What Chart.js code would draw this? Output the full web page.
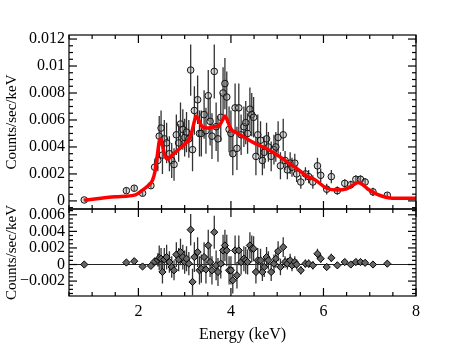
<!DOCTYPE html>
<html>
<head>
<meta charset="utf-8">
<script src="https://cdn.jsdelivr.net/npm/chart.js@4/dist/chart.umd.min.js"></script>
<style>
html, body { margin: 0; padding: 0; background: #fff; }
#wrap { width: 463px; height: 348px; }
</style>
</head>
<body>
<div id="wrap"><canvas id="spec" width="463" height="348"></canvas></div>
<script>
// spectrum bins (keV), data, residuals and 1-sigma errors
var energy = [0.83, 1.74, 1.91, 2.09, 2.27, 2.35, 2.42, 2.45, 2.49, 2.52, 2.56, 2.61, 2.67, 2.72, 2.77, 2.82, 2.87, 2.91, 2.96, 3.00,
    3.04, 3.09, 3.13, 3.17, 3.21, 3.28, 3.32, 3.36, 3.42, 3.46, 3.51, 3.55, 3.59, 3.64, 3.68, 3.72, 3.78, 3.83, 3.87, 3.91,
    3.96, 4.00, 4.04, 4.09, 4.13, 4.17, 4.22, 4.28, 4.32, 4.36, 4.41, 4.45, 4.49, 4.54, 4.58, 4.64, 4.68, 4.72, 4.77, 4.81,
    4.87, 4.93, 4.97, 5.02, 5.07, 5.13, 5.17, 5.22, 5.28, 5.32, 5.38, 5.42, 5.51, 5.61, 5.68, 5.77, 5.87, 5.94, 6.07, 6.17,
    6.30, 6.46, 6.59, 6.70, 6.80, 6.90, 7.07, 7.38];
var counts = [0.00007, 0.00076, 0.00094, 0.00057, 0.00113, 0.0025, 0.0030, 0.0048, 0.0054, 0.0034, 0.0046, 0.0043, 0.0035, 0.0030, 0.0027, 0.0049, 0.0043, 0.0057, 0.0053, 0.0047,
    0.0051, 0.0046, 0.0097, 0.0038, 0.0067, 0.0075, 0.0050, 0.0050, 0.0064, 0.0052, 0.0078, 0.0059, 0.0048, 0.0096, 0.0055, 0.0046, 0.0062, 0.0080, 0.0087, 0.0077,
    0.0053, 0.0050, 0.0035, 0.0069, 0.0039, 0.0069, 0.0049, 0.0055, 0.0058, 0.0050, 0.0068, 0.0064, 0.0062, 0.0033, 0.0049, 0.0045, 0.0030, 0.0036, 0.0046, 0.0040,
    0.0033, 0.0038, 0.0040, 0.0047, 0.0026, 0.0049, 0.0030, 0.0023, 0.0028, 0.0025, 0.0028, 0.0020, 0.0014, 0.0020, 0.0018, 0.0014, 0.0026, 0.0019, 0.00087, 0.0018,
    0.00076, 0.0013, 0.0012, 0.0016, 0.0016, 0.0014, 0.00067, 0.00042];
var resid = [0, 0.00024, 0.0004, -0.00024, -0.00016, 0.00036, 0.00056, 0.0008, 0.0007, -0.0009, 0.0006, 0.0009, 0.0003, -0.0003, -0.0007, 0.0012, 0.0006, 0.0015, 0.0009, 0.0003,
    0.0007, 0.0001, 0.0042, -0.0021, 0.0009, 0.0015, -0.0007, -0.0005, 0.0009, -0.0006, 0.0023, 0.0003, -0.0007, 0.0039, -0.0001, -0.0009, 0.0001, 0.0017, 0.0023, 0.0017,
    -0.0007, -0.0007, -0.0019, 0.0017, -0.0013, 0.0017, 0.0003, 0.0007, 0.0005, 0.0003, 0.0023, 0.0019, 0.0019, -0.0009, 0.0005, 0.0005, -0.0009, -0.0003, 0.0009, 0.0005,
    -0.0009, 0.0001, 0.0007, 0.0016, -0.0003, 0.0021, 0.0003, 0.0001, 0.0005, -0.0001, 0.0003, 0, -0.0007, 0.0001, 0.0001, -0.0001, 0.0013, 0.0007, -0.0003, 0.0008,
    -0.0001, 0.0003, 0, 0.0003, 0.0003, 0.0002, 0, 0.0001];
var err = [0.0001, 0.0002, 0.0002, 0.0002, 0.0002, 0.0005, 0.0008, 0.0015, 0.0013, 0.0014, 0.0014, 0.0015, 0.0013, 0.0013, 0.0012, 0.0015, 0.0014, 0.0016, 0.0015, 0.0014,
    0.0015, 0.0014, 0.0019, 0.0016, 0.0018, 0.0018, 0.0017, 0.0017, 0.0018, 0.0017, 0.0019, 0.0018, 0.0017, 0.0020, 0.0018, 0.0017, 0.0018, 0.0019, 0.0019, 0.0019,
    0.0017, 0.0017, 0.0016, 0.0018, 0.0016, 0.0018, 0.0015, 0.0015, 0.0016, 0.0015, 0.0016, 0.0016, 0.0015, 0.0014, 0.0015, 0.0014, 0.0011, 0.0012, 0.0012, 0.0011,
    0.0011, 0.0011, 0.0011, 0.0012, 0.0010, 0.0012, 0.0007, 0.0007, 0.0008, 0.0007, 0.0007, 0.0006, 0.0005, 0.0005, 0.0005, 0.0005, 0.0006, 0.0005, 0.0004, 0.0005,
    0.0003, 0.0003, 0.0003, 0.0003, 0.0003, 0.0003, 0.0003, 0.0002];

// folded model
var modelE = [0.83, 1.5, 1.95, 2.05, 2.2, 2.3, 2.36, 2.41, 2.45, 2.48, 2.52, 2.57, 2.63, 2.7, 2.8, 2.9, 3.0, 3.1, 3.16, 3.21,
    3.25, 3.3, 3.38, 3.5, 3.65, 3.75, 3.82, 3.87, 3.92, 4.0, 4.1, 4.25, 4.5, 4.75, 5.0, 5.25, 5.5, 5.65, 5.8, 6.07,
    6.3, 6.5, 6.65, 6.75, 6.85, 6.95, 7.15, 7.37, 7.5, 8.0];
var modelY = [0.00005, 0.0003, 0.00047, 0.0007, 0.0011, 0.0015, 0.0022, 0.0034, 0.0044, 0.0046, 0.0041, 0.0034, 0.0031, 0.0033, 0.0036, 0.0039, 0.0042, 0.0046, 0.0052, 0.0059,
    0.0063, 0.0060, 0.0055, 0.0054, 0.0055, 0.0056, 0.0060, 0.0063, 0.0060, 0.0053, 0.0051, 0.0048, 0.0043, 0.0039, 0.0034, 0.0028, 0.0022, 0.0018, 0.0016, 0.00094,
    0.0008, 0.0009, 0.0012, 0.00136, 0.0012, 0.0009, 0.0005, 0.00025, 0.0002, 0.0002];

var xTicks = [2, 4, 6, 8];
var yTopTicks = [0, 0.002, 0.004, 0.006, 0.008, 0.01, 0.012];
var yTopLabels = ['0', '0.002', '0.004', '0.006', '0.008', '0.01', '0.012'];
var yBotTicks = [-0.002, 0, 0.002, 0.004, 0.006];
var yBotLabels = ['\u22120.002', '0', '0.002', '0.004', '0.006'];

var serif = "'Liberation Serif', 'DejaVu Serif', serif";

function errorSegments(vals) {
    var out = [];
    energy.forEach(function (e, i) {
        out.push({x: e, y: vals[i] - err[i]});
        out.push({x: e, y: vals[i] + err[i]});
        out.push({x: e, y: null});
    });
    return out;
}

// inward tick marks on all four sides of both panels, like the PGPLOT frame
var frameTicks = {
    id: 'frameTicks',
    afterDatasetsDraw: function (chart) {
        var ctx = chart.ctx;
        var sx = chart.scales.x;
        ctx.save();
        ctx.strokeStyle = '#000';
        ctx.lineWidth = 1.2;
        function seg(x1, y1, x2, y2) {
            ctx.beginPath();
            ctx.moveTo(x1, y1);
            ctx.lineTo(x2, y2);
            ctx.stroke();
        }
        [chart.scales.y, chart.scales.y2].forEach(function (sy) {
            var l = sx.left, r = sx.right, t = sy.top, b = sy.bottom;
            ctx.strokeRect(l, t, r - l, b - t);
            for (var k = 1; k <= 16; k++) {
                var v = k * 0.5;
                var px = sx.getPixelForValue(v);
                var len = xTicks.indexOf(v) >= 0 ? 8 : 4;
                seg(px, t, px, t + len);
                seg(px, b, px, b - len);
            }
            var k0 = Math.ceil(sy.min / 0.0005), k1 = Math.floor(sy.max / 0.0005);
            for (var j = k0; j <= k1; j++) {
                var py = sy.getPixelForValue(j * 0.0005);
                var ln = j % 4 === 0 ? 8 : 4;
                seg(l, py, l + ln, py);
                seg(r, py, r - ln, py);
            }
        });
        ctx.restore();
    }
};

var area = document.getElementById("spec").getContext("2d");
var specChart = new Chart(area, {
    type: 'scatter',
    data: {
        datasets: [{
            label: 'model',
            showLine: true,
            yAxisID: 'y',
            data: modelE.map(function (e, i) { return {x: e, y: modelY[i]}; }),
            borderColor: '#ff0000',
            borderWidth: 3.5,
            pointRadius: 0,
            cubicInterpolationMode: 'monotone',
            order: 0
        }, {
            label: 'data',
            yAxisID: 'y',
            data: energy.map(function (e, i) { return {x: e, y: counts[i]}; }),
            pointStyle: 'circle',
            pointRadius: 3.3,
            borderWidth: 1,
            borderColor: '#111',
            backgroundColor: 'rgba(150,150,150,0.35)',
            order: 1
        }, {
            label: 'data errors',
            showLine: true,
            spanGaps: false,
            yAxisID: 'y',
            data: errorSegments(counts),
            borderColor: '#333',
            borderWidth: 1.3,
            pointRadius: 0,
            order: 2
        }, {
            label: 'zero',
            showLine: true,
            yAxisID: 'y2',
            data: [{x: 0.5, y: 0}, {x: 8, y: 0}],
            borderColor: '#222',
            borderWidth: 1.2,
            pointRadius: 0,
            order: 3
        }, {
            label: 'residual errors',
            showLine: true,
            spanGaps: false,
            yAxisID: 'y2',
            data: errorSegments(resid),
            borderColor: '#333',
            borderWidth: 1.3,
            pointRadius: 0,
            order: 2
        }, {
            label: 'residuals',
            yAxisID: 'y2',
            data: energy.map(function (e, i) { return {x: e, y: resid[i]}; }),
            pointStyle: 'rectRot',
            pointRadius: 3.6,
            borderWidth: 1,
            borderColor: '#000',
            backgroundColor: '#666',
            order: 1
        }]
    },
    options: {
        responsive: false,
        animation: false,
        layout: {
            padding: {top: 35, right: 47, left: 0, bottom: 0}
        },
        scales: {
            x: {
                type: 'linear',
                min: 0.5,
                max: 8,
                offset: false,
                afterBuildTicks: function (s) { s.ticks = xTicks.map(function (v) { return {value: v}; }); },
                afterFit: function (s) { s.height = 52; },
                grid: {display: false, drawTicks: false},
                border: {display: false},
                ticks: {
                    color: '#000',
                    font: {family: serif, size: 16},
                    padding: 6,
                    maxRotation: 0,
                    autoSkip: false,
                    callback: function (value) { return String(value); }
                },
                title: {
                    display: true,
                    text: 'Energy (keV)',
                    color: '#000',
                    font: {family: serif, size: 16},
                    padding: {top: 4, bottom: 4}
                }
            },
            y: {
                type: 'linear',
                position: 'left',
                stack: 'panels',
                stackWeight: 2,
                weight: 1,
                min: -0.0006,
                max: 0.0123,
                afterBuildTicks: function (s) { s.ticks = yTopTicks.map(function (v) { return {value: v}; }); },
                afterFit: function (s) { s.width = 69; },
                grid: {display: false, drawTicks: false},
                border: {display: false},
                ticks: {
                    color: '#000',
                    font: {family: serif, size: 16},
                    padding: 4,
                    autoSkip: false,
                    callback: function (value, index) { return yTopLabels[index]; }
                },
                title: {
                    display: true,
                    text: 'Counts/sec/keV',
                    color: '#000',
                    font: {family: serif, size: 15},
                    padding: {top: 3, bottom: 3}
                }
            },
            y2: {
                type: 'linear',
                position: 'left',
                stack: 'panels',
                stackWeight: 1,
                weight: 0,
                min: -0.0038,
                max: 0.0067,
                afterBuildTicks: function (s) { s.ticks = yBotTicks.map(function (v) { return {value: v}; }); },
                afterFit: function (s) { s.width = 69; },
                grid: {display: false, drawTicks: false},
                border: {display: false},
                ticks: {
                    color: '#000',
                    font: {family: serif, size: 16},
                    padding: 4,
                    autoSkip: false,
                    callback: function (value, index) { return yBotLabels[index]; }
                },
                title: {
                    display: true,
                    text: 'Counts/sec/keV',
                    color: '#000',
                    font: {family: serif, size: 15},
                    padding: {top: 3, bottom: 3}
                }
            }
        },
        plugins: {
            legend: {display: false},
            tooltip: {enabled: false}
        }
    },
    plugins: [frameTicks]
});
</script>
</body>
</html>
